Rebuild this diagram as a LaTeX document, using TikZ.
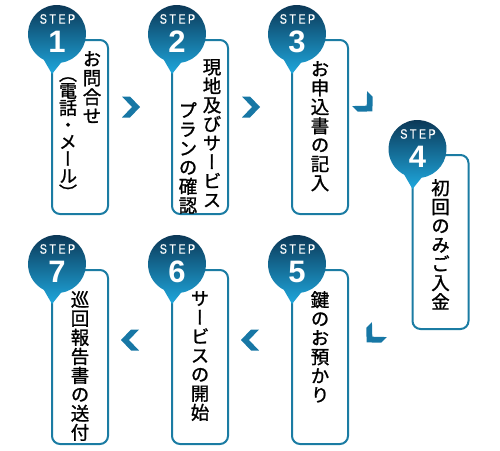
\documentclass[tikz,border=0pt]{standalone}
\usepackage{fontspec}
\usetikzlibrary{positioning,calc}
\newfontfamily\jpfont[RawFeature=+vert,FakeBold=1.2]{Noto Sans CJK JP}
\newfontfamily\stepfont[LetterSpace=18,FakeStretch=0.8,FakeBold=0.5]{Liberation Sans}
\newfontfamily\numfont{Liberation Sans}
\newcommand{\coltight}{\lineskiplimit=-10pt\relax}
\definecolor{BoxLine}{HTML}{1B7CA3}
\definecolor{BubbleTop}{HTML}{0B3553}
\definecolor{BubbleMid}{HTML}{15739F}
\definecolor{BubbleLow}{HTML}{1FA8DE}
\definecolor{ChevBlue}{HTML}{1777A5}

\tikzset{
  stepbox/.style={draw=BoxLine, line width=2pt, rounded corners=8pt, fill=white, minimum width=56pt, minimum height=174pt, inner sep=0pt},
  coltext/.style={font=\jpfont\fontsize{18.5}{19}\selectfont\coltight, align=center, inner sep=0pt, anchor=north},
  steplabel/.style={font=\stepfont\fontsize{13.5}{13.5}\selectfont, text=white, inner sep=0pt},
  stepnum/.style={font=\numfont\bfseries\fontsize{31}{31}\selectfont, text=white, inner sep=0pt},
  chev/.pic={\fill[ChevBlue] (-9,-10.5)--(-1,-10.5)--(9,0)--(-1,10.5)--(-9,10.5)--(1,0)--cycle;}
}

% bubble with STEP and number on the top left corner of a box
\newcommand{\stepmark}[2]{%
  \path (#1.north west) ++(6,5) coordinate (#1c);
  \shade[top color=BubbleTop, middle color=BubbleMid, bottom color=BubbleLow]
    ($(#1c)+(278:29)$) arc[start angle=278, end angle=603, radius=29] -- ($(#1c)+(-5,-40)$) -- cycle;
  \node[steplabel] (#1s) at ($(#1c)+(0.5,15)$) {STEP};
  \node[stepnum] (#1n) at ($(#1c)+(0,-8)$) {#2};
}

\begin{document}
\begin{tikzpicture}[x=1pt, y=1pt]
\useasboundingbox (0,0) rectangle (500,-450);

% boxes
\node[stepbox] (b1) at (80,-127) {};
\node[stepbox] (b2) at (200,-127) {};
\node[stepbox] (b3) at (320,-127) {};
\node[stepbox] (b4) at (440.5,-242) {};
\node[stepbox] (b5) at (320,-357) {};
\node[stepbox] (b6) at (200,-357) {};
\node[stepbox] (b7) at (80,-357) {};

\stepmark{b1}{1}
\stepmark{b2}{2}
\stepmark{b3}{3}
\stepmark{b4}{4}
\stepmark{b5}{5}
\stepmark{b6}{6}
\stepmark{b7}{7}

% texts
\node[coltext] (t1a) at (92,-51) {お\\問\\合\\せ};
\node[coltext, font=\jpfont\fontsize{18}{17}\selectfont\coltight] (t1b) at (68,-77) {（\\電\\話\\・\\メ\\ー\\ル\\）};
\node[coltext] (t2a) at (212,-59) {現\\地\\及\\び\\サ\\ー\\ビ\\ス};
\node[coltext] (t2b) at (188,-102) {プ\\ラ\\ン\\の\\確\\認};
\node[coltext] (t3) at (320,-61) {お\\申\\込\\書\\の\\記\\入};
\node[coltext] (t4) at (440.5,-179) {初\\回\\の\\み\\ご\\入\\金};
\node[coltext] (t5) at (320,-291) {鍵\\の\\お\\預\\か\\り};
\node[coltext] (t6) at (200,-291) {サ\\ー\\ビ\\ス\\の\\開\\始};
\node[coltext] (t7) at (80,-291) {巡\\回\\報\\告\\書\\の\\送\\付};

% chevrons
\pic at ($(b1.east)!0.5!(b2.west)+(-9,20)$) {chev};
\pic at ($(b2.east)!0.5!(b3.west)+(-9,20)$) {chev};
\pic[rotate=-45] at ($(b3.east)+(17,22)$) {chev};
\pic[rotate=-135] at ($(b5.east)+(24,21)$) {chev};
\pic[rotate=180] at ($(b6.east)!0.5!(b5.west)+(-10,17)$) {chev};
\pic[rotate=180] at ($(b7.east)!0.5!(b6.west)+(-10,17)$) {chev};
\end{tikzpicture}
\end{document}
